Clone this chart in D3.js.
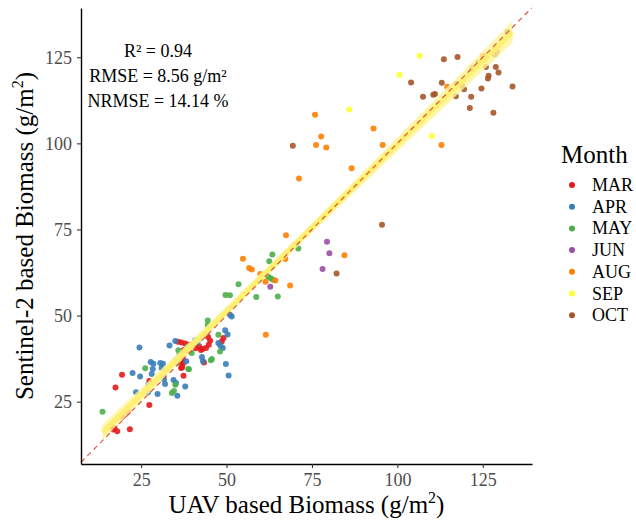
<!DOCTYPE html>
<html>
<head>
<meta charset="utf-8">
<script src="https://cdn.jsdelivr.net/npm/d3@7"></script>
<style>
  body { margin: 0; background: #fff; }
</style>
</head>
<body>
<svg width="636" height="524"></svg>
<script>
// Month categories and colours
const months = ["MAR", "APR", "MAY", "JUN", "AUG", "SEP", "OCT"];
const monthColors = ["#e41a1c", "#377eb8", "#4daf4a", "#984ea3", "#ff7f00", "#ffff33", "#a65628"];

// [UAV biomass, Sentinel-2 biomass] per month
const marPoints = [[16,17.8],[17.2,17.4],[18,16.4],[16.8,16.9],[19,20.8],[19.5,20.6],[21.1,22.1],[21.7,17],[17.5,29.1],[19.4,32.8],[27.4,24],[27.4,31],[37.4,32.5],[36.7,34.8],[36.9,36.3],[43.4,36.4],[36.9,38.6],[37.1,37.3],[37.2,36],[37,35],[35.8,42.4],[36.8,42.2],[37.9,41.9],[39,41.5],[40.3,41.2],[41,40.5],[42,41],[43,40.3],[44,40.6],[44.8,41.5],[45.2,42.7],[44.6,43.8],[43.5,44.4],[42.5,40],[49.1,43.5],[48.6,42.5],[37.5,40],[38.5,39.8]];
const aprPoints = [[22.5,33.3],[24.7,32.3],[23.5,27.7],[27,27.7],[27.1,29.9],[28.1,33],[28.4,34.5],[28.6,36],[29.8,27.2],[31.4,36],[31.5,32.8],[31.7,31.5],[32,30.1],[34.5,31.3],[35.2,30.4],[35.6,26.7],[37.9,29.4],[49.8,35.9],[50.6,32.6],[24.5,40.7],[33.3,41.3],[35,42.6],[40.8,42.8],[41.5,42],[38.2,36.7],[30.6,36.2],[31,34.8],[42.8,38],[43.1,36.7],[47.6,42],[48.2,41.2],[48.9,40.6],[49.6,45.7],[50.3,44.5],[51,50.2],[51.5,49.7],[27.8,36.5]];
const mayPoints = [[13.7,22.1],[26.2,34.7],[34,27.5],[34.6,28.1],[35,29.9],[39,34.4],[45.4,37],[35.9,39.9],[36.2,38.6],[38.6,41],[39.8,39.1],[35.2,37.2],[35.4,36.2],[38.8,34.5],[45.7,37.4],[47.6,44.4],[48.1,39.6],[44.5,48.6],[44.5,47.2],[49.7,56],[51,55.9],[53.5,59.1],[58.7,55.4],[65,55.5],[62.2,61.3],[62.9,60.8],[63.6,60.4],[62.5,65.8],[63.4,67.7],[71,69.5]];
const junPoints = [[79.4,71.4],[80.1,68.1],[78.1,63.5],[62.8,58.4]];
const augPoints = [[61.5,44.4],[54.8,66.5],[56.6,63.8],[57.4,63.4],[59.9,62.1],[61.4,59.8],[64.3,60.2],[68.6,58.7],[67.2,66.4],[67.4,73.3],[84.5,67.5],[71.2,89.8],[75.9,108.3],[77.7,102],[76.2,99.5],[79.2,98.8],[93,104.3],[95.7,99.5],[86.6,92.8],[112.9,99.5],[114.6,116.4],[125,125.4]];
const sepPoints = [[85.9,109.8],[106.5,125.4],[100.6,119.9],[110.1,102.1]];
const octPoints = [[69.4,99.3],[95.5,76.4],[82.2,62.2],[113.6,124.4],[117.6,125.1],[132.2,132.4],[125.4,124.3],[125.8,125.2],[123.6,123.4],[122,121.9],[129.1,126.6],[128.5,125.8],[125.9,122.2],[128.8,122.2],[129.6,120.6],[126.7,119.6],[126.5,118.8],[104,117.7],[113,117.6],[117.3,117.3],[119,116.7],[119.5,115.7],[111,114.3],[110.5,114.1],[107.5,113.5],[117.1,113.7],[121.6,113.5],[124.6,115.9],[133.7,116.5],[121.2,110.3],[128.1,108.9]];

// Regression line (y = a + b x)
const fitIntercept = 2.8, fitSlope = 0.969;

const tickValues = [25, 50, 75, 100, 125];
const statLines = ["R\u00b2 = 0.94", "RMSE = 8.56 g/m\u00b2", "NRMSE = 14.14 %"];

const series = [marPoints, aprPoints, mayPoints, junPoints, augPoints, sepPoints, octPoints];
const data = series.flatMap((pts, i) => pts.map(p => ({ x: p[0], y: p[1], month: months[i] })));

const FONT = "'Liberation Serif', 'DejaVu Serif', serif";

// Panel box
const panel = { left: 81, right: 532, top: 8, bottom: 464 };

const svg = d3.select("svg");
const x = d3.scaleLinear().domain([7.4, 139.4]).range([panel.left, panel.right]);
const y = d3.scaleLinear().domain([6.9, 139.3]).range([panel.bottom, panel.top]);
const color = d3.scaleOrdinal().domain(months).range(monthColors);

// Points
svg.append("g")
  .selectAll("circle")
  .data(data)
  .join("circle")
  .attr("cx", d => x(d.x))
  .attr("cy", d => y(d.y))
  .attr("r", 3)
  .attr("fill", d => color(d.month))
  .attr("fill-opacity", 0.9);

// Confidence band around the fit, spread taken from the points
const n = data.length;
const mx = d3.mean(data, d => d.x);
const sxx = d3.sum(data, d => (d.x - mx) ** 2);
const s = Math.sqrt(d3.sum(data, d => (d.y - fitIntercept - fitSlope * d.x) ** 2) / (n - 2));
const [xmin, xmax] = d3.extent(data, d => d.x);
const fit = d3.range(0, 81).map(i => {
  const xv = xmin + (xmax - xmin) * i / 80;
  const yv = fitIntercept + fitSlope * xv;
  const se = 1.97 * s * Math.sqrt(1 / n + (xv - mx) ** 2 / sxx);
  return { x: xv, y: yv, lo: yv - se, hi: yv + se };
});

svg.append("path")
  .datum(fit)
  .attr("fill", "#fff49a")
  .attr("fill-opacity", 0.8)
  .attr("d", d3.area().x(d => x(d.x)).y0(d => y(d.lo)).y1(d => y(d.hi)));

svg.append("path")
  .datum(fit)
  .attr("fill", "none")
  .attr("stroke", "#fff06a")
  .attr("stroke-opacity", 0.9)
  .attr("stroke-width", 5)
  .attr("d", d3.line().x(d => x(d.x)).y(d => y(d.y)));

// 1:1 line
const lo = Math.max(x.domain()[0], y.domain()[0]), hi = Math.min(x.domain()[1], y.domain()[1]);
svg.append("line")
  .attr("x1", x(lo)).attr("y1", y(lo))
  .attr("x2", x(hi)).attr("y2", y(hi))
  .attr("stroke", "#d7301f")
  .attr("stroke-opacity", 0.8)
  .attr("stroke-width", 1.2)
  .attr("stroke-dasharray", "5,4");

// Axes
const xAxis = svg.append("g")
  .attr("transform", `translate(0,${panel.bottom})`)
  .call(d3.axisBottom(x).tickValues(tickValues).tickSize(4).tickSizeOuter(0).tickPadding(5));
const yAxis = svg.append("g")
  .attr("transform", `translate(${panel.left},0)`)
  .call(d3.axisLeft(y).tickValues(tickValues).tickSize(4).tickSizeOuter(0).tickPadding(5));

[xAxis, yAxis].forEach(a => {
  a.attr("font-family", FONT).attr("font-size", 18);
  a.select(".domain").attr("stroke", "#000").attr("stroke-width", 1.4);
  a.selectAll(".tick line").attr("stroke", "#333").attr("stroke-width", 1.1);
  a.selectAll(".tick text").attr("fill", "#4d4d4d");
});

// Axis titles
const xTitle = svg.append("text")
  .attr("x", (panel.left + panel.right) / 2)
  .attr("y", 513)
  .attr("text-anchor", "middle")
  .attr("font-family", FONT)
  .attr("font-size", 25)
  .attr("fill", "#000");
xTitle.append("tspan").text("UAV based Biomass (g/m");
xTitle.append("tspan").attr("dy", -10).attr("font-size", 16).text("2");
xTitle.append("tspan").attr("dy", 10).text(")");

const yTitle = svg.append("text")
  .attr("transform", `translate(33,${(panel.top + panel.bottom) / 2}) rotate(-90)`)
  .attr("text-anchor", "middle")
  .attr("font-family", FONT)
  .attr("font-size", 25)
  .attr("fill", "#000");
yTitle.append("tspan").text("Sentinel-2 based Biomass (g/m");
yTitle.append("tspan").attr("dy", -10).attr("font-size", 16).text("2");
yTitle.append("tspan").attr("dy", 10).text(")");

// Fit statistics
svg.append("g")
  .selectAll("text")
  .data(statLines)
  .join("text")
  .attr("x", 158)
  .attr("y", (d, i) => 57 + i * 25)
  .attr("text-anchor", "middle")
  .attr("font-family", FONT)
  .attr("font-size", 18)
  .attr("fill", "#000")
  .text(d => d);

// Legend
svg.append("text")
  .attr("x", 561)
  .attr("y", 163)
  .attr("font-family", FONT)
  .attr("font-size", 25)
  .attr("fill", "#000")
  .text("Month");

const legend = svg.append("g")
  .selectAll("g")
  .data(months)
  .join("g")
  .attr("transform", (d, i) => `translate(0,${185 + i * 21.7})`);

legend.append("circle")
  .attr("cx", 572)
  .attr("cy", 0)
  .attr("r", 3)
  .attr("fill", d => color(d));

legend.append("text")
  .attr("x", 592)
  .attr("y", 6)
  .attr("font-family", FONT)
  .attr("font-size", 18)
  .attr("fill", "#000")
  .text(d => d);
</script>
</body>
</html>
